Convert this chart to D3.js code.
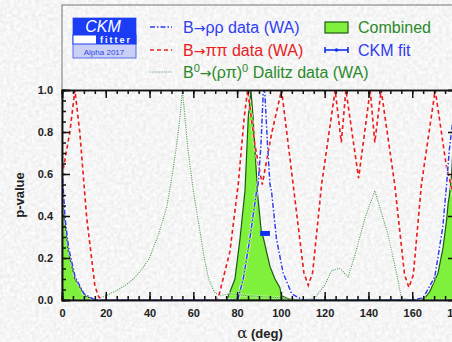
<!DOCTYPE html>
<html lang="en">
<head>
<meta charset="UTF-8">
<title>CKMfitter alpha 2017</title>
<script src="https://d3js.org/d3.v7.min.js"></script>
<style>
  body { margin: 0; background: #ebebeb; }
  svg { display: block; }
  text { font-family: "Liberation Sans", Arial, sans-serif; }
  .tick text { font-weight: bold; font-size: 11px; fill: #222; }
</style>
</head>
<body>
<svg width="452" height="342"></svg>
<script>
// --- data (alpha in deg, p-value) ---
const pipiDeg = [0, 3.6, 5.9, 8.2, 11.3, 15, 16.5, 18, 70, 71.4, 76.7, 80.5, 83.2, 84.8, 88.1, 91.5, 95.7, 100.3, 105.6, 110.5, 112.5, 114.5, 118.6, 124.8, 127.6, 129.7, 135.5, 140.8, 142.9, 145.8, 152, 156.5, 158.5, 160.5, 164.2, 170.5, 175.7, 180];
const pipiP   = [0.59, 0.80, 1.0, 0.79, 0.39, 0.07, 0.02, 0.0, 0.0, 0.01, 0.23, 0.55, 0.865, 1.0, 0.74, 0.55, 0.79, 1.0, 0.55, 0.13, 0.07, 0.13, 0.55, 1.0, 0.75, 1.0, 0.58, 1.0, 0.75, 1.0, 0.55, 0.12, 0.06, 0.12, 0.55, 1.0, 0.63, 0.45];

const rhorhoDeg = [0, 1.4, 3, 6, 10, 15, 78, 80.5, 82.8, 85.8, 88.9, 89.6, 90.9, 91.9, 92.3, 92.7, 93.9, 95, 95.7, 98, 101, 104.9, 110, 160, 165, 170.3, 174, 175.7, 177, 178.5, 180];
const rhorhoP   = [0.63, 0.39, 0.25, 0.11, 0.03, 0.0, 0.0, 0.01, 0.1, 0.29, 0.52, 0.55, 0.74, 0.98, 1.0, 0.98, 0.74, 0.55, 0.52, 0.29, 0.13, 0.03, 0.0, 0.0, 0.01, 0.11, 0.35, 0.55, 0.72, 0.85, 1.0];

const dalitzDeg = [0, 15, 17.4, 21, 25, 29, 32.6, 36, 40, 44, 47.8, 50, 52.4, 53.9, 55, 57.5, 60, 62.5, 65, 67, 69.5, 72, 76.7, 85, 100, 110, 115.5, 120, 123.1, 127, 130.7, 134, 138.4, 142.9, 149, 153.6, 155, 160, 180];
const dalitzP   = [0.0, 0.0, 0.01, 0.025, 0.045, 0.07, 0.1, 0.14, 0.2, 0.31, 0.44, 0.57, 0.74, 0.87, 1.0, 0.72, 0.52, 0.36, 0.2, 0.1, 0.04, 0.02, 0.03, 0.02, 0.01, 0.0, 0.01, 0.07, 0.14, 0.15, 0.11, 0.22, 0.39, 0.52, 0.31, 0.09, 0.01, 0.0, 0.0];

const combDeg = [0, 2.9, 5.9, 10.5, 15, 75, 75.5, 79, 81.3, 83.6, 85.1, 86.3, 87.3, 89.4, 91.2, 91.9, 95, 97.3, 99.5, 100.3, 105, 164, 165.8, 168, 171.8, 174.1, 175.7, 176.4, 177, 178, 180];
const combP   = [0.47, 0.23, 0.1, 0.02, 0.0, 0.0, 0.005, 0.1, 0.29, 0.52, 0.87, 1.0, 0.87, 0.5, 0.31, 0.3, 0.16, 0.1, 0.06, 0.02, 0.0, 0.0, 0.01, 0.04, 0.13, 0.25, 0.38, 0.46, 0.5, 0.6, 1.0];

// CKM fit: central value and 1 sigma interval
const ckmFit = { central: 92.7, low: 90.5, high: 95.0, p: 0.317 };

const xTicks = d3.range(0, 181, 20);
const yTicks = [0, 0.2, 0.4, 0.6, 0.8, 1.0];

const legendRows = [
  { particles: "\u03c1\u03c1", color: "#2f3cf0", dash: "5,2,1.5,2", width: 1.5 },
  { particles: "\u03c0\u03c0", color: "#e82020", dash: "4,3", width: 1.7 },
  { particles: null, color: "#4f9a4f", dash: "1,1.3", width: 1.2 }
];

const svg = d3.select("svg");
const W = 452, H = 342;

// paper-like background
const defs = svg.append("defs");
const f = defs.append("filter").attr("id", "paper").attr("x", 0).attr("y", 0).attr("width", "100%").attr("height", "100%");
f.append("feTurbulence").attr("type", "fractalNoise").attr("baseFrequency", 0.28).attr("numOctaves", 2).attr("seed", 4);
f.append("feColorMatrix").attr("type", "matrix")
  .attr("values", "0.25 0 0 0 0.79  0.25 0 0 0 0.79  0.25 0 0 0 0.79  0 0 0 0 1");
svg.append("rect").attr("width", W).attr("height", H).attr("filter", "url(#paper)");

const x = d3.scaleLinear().domain([0, 180]).range([62, 456]);
const y = d3.scaleLinear().domain([0, 1]).range([300, 90]);

defs.append("clipPath").attr("id", "plot")
  .append("rect").attr("x", 62).attr("y", 90).attr("width", 394).attr("height", 210);

// outer frame (legend area + plot)
svg.append("rect").attr("x", 62).attr("y", 5).attr("width", 394).attr("height", 295)
  .attr("fill", "none").attr("stroke", "#8a8a8a").attr("stroke-width", 1.2);

const g = svg.append("g").attr("clip-path", "url(#plot)");

const pts = (xs, ys) => xs.map((d, i) => [d, ys[i]]);
const line = d3.line().x(d => x(d[0])).y(d => y(d[1]));
const area = d3.area().x(d => x(d[0])).y0(y(0)).y1(d => y(d[1]));

// combined, filled
g.append("path").attr("d", area(pts(combDeg, combP)))
  .attr("fill", "#7ff03c").attr("stroke", "#1e5a12").attr("stroke-width", 1.2);

function curve(xs, ys, color, dash, w) {
  const d = line(pts(xs, ys));
  g.append("path").attr("d", d).attr("fill", "none")
    .attr("stroke", "#fff").attr("stroke-opacity", 0.7).attr("stroke-width", w + 2)
    .attr("stroke-dasharray", dash);
  g.append("path").attr("d", d).attr("fill", "none")
    .attr("stroke", color).attr("stroke-width", w).attr("stroke-dasharray", dash);
}
[2, 1, 0].forEach(i => {
  const r = legendRows[i];
  const xs = [rhorhoDeg, pipiDeg, dalitzDeg][i];
  const ys = [rhorhoP, pipiP, dalitzP][i];
  curve(xs, ys, r.color, r.dash, r.width);
});

// CKM fit marker
g.append("line").attr("x1", x(ckmFit.low)).attr("x2", x(ckmFit.high))
  .attr("y1", y(ckmFit.p)).attr("y2", y(ckmFit.p))
  .attr("stroke", "#1030f0").attr("stroke-width", 5);

// axes
function styleAxis(sel) {
  sel.select(".domain").attr("stroke", "#111").attr("stroke-width", 1.5);
  sel.selectAll(".tick line").attr("stroke", "#111").attr("stroke-width", 1.5);
}
const minorX = d3.range(0, 181, 5);
const minorY = d3.range(0, 1.0001, 0.05);

svg.append("g").attr("transform", "translate(0,300)")
  .call(d3.axisBottom(x).tickValues(minorX).tickSize(-4).tickFormat(""))
  .call(styleAxis);
svg.append("g").attr("transform", "translate(0,300)")
  .call(d3.axisBottom(x).tickValues(xTicks).tickSize(-8).tickPadding(9).tickFormat(d3.format("d")))
  .call(styleAxis);
svg.append("g").attr("transform", "translate(0,90)")
  .call(d3.axisTop(x).tickValues(minorX).tickSize(-4).tickFormat(""))
  .call(styleAxis);
svg.append("g").attr("transform", "translate(0,90)")
  .call(d3.axisTop(x).tickValues(xTicks).tickSize(-8).tickFormat(""))
  .call(styleAxis);
svg.append("g").attr("transform", "translate(62,0)")
  .call(d3.axisLeft(y).tickValues(minorY).tickSize(-4).tickFormat(""))
  .call(styleAxis);
svg.append("g").attr("transform", "translate(62,0)")
  .call(d3.axisLeft(y).tickValues(yTicks).tickSize(-8).tickPadding(9).tickFormat(d3.format(".1f")))
  .call(styleAxis);
svg.append("g").attr("transform", "translate(456,0)")
  .call(d3.axisRight(y).tickValues(yTicks).tickSize(-8).tickFormat(""))
  .call(styleAxis);

// axis titles
svg.append("text").attr("x", 260).attr("y", 338).attr("text-anchor", "middle")
  .attr("font-size", 13).attr("font-weight", "bold").attr("fill", "#222")
  .html('<tspan font-family="DejaVu Serif" font-weight="normal" font-size="15">\u03b1</tspan>  (deg)');
svg.append("text").attr("transform", "translate(24,195) rotate(-90)")
  .attr("text-anchor", "middle").attr("font-size", 13).attr("font-weight", "bold").attr("fill", "#222")
  .text("p-value");

// logo
const logo = svg.append("g");
logo.append("rect").attr("x", 73).attr("y", 18).attr("width", 63).attr("height", 40)
  .attr("fill", "#c9cff5").attr("stroke", "#3a50ee").attr("stroke-width", 0.8);
logo.append("rect").attr("x", 73).attr("y", 18).attr("width", 63).attr("height", 17).attr("fill", "#1a3cf5");
logo.append("rect").attr("x", 73).attr("y", 35).attr("width", 63).attr("height", 9)
  .attr("fill", "#fff").attr("stroke", "#1a3cf5").attr("stroke-width", 1);
logo.append("rect").attr("x", 96).attr("y", 35).attr("width", 40).attr("height", 9).attr("fill", "#1a3cf5");
logo.append("text").attr("x", 103).attr("y", 32).attr("text-anchor", "middle")
  .attr("font-size", 16).attr("font-style", "italic").attr("fill", "#fff").text("CKM");
logo.append("text").attr("x", 116).attr("y", 43).attr("text-anchor", "middle")
  .attr("font-size", 9).attr("font-weight", "bold").attr("letter-spacing", 2).attr("fill", "#fff").text("fitter");
logo.append("text").attr("x", 104).attr("y", 54.5).attr("text-anchor", "middle")
  .attr("font-size", 8).attr("fill", "#3048e8").text("Alpha 2017");

// legend
const rowY = [27, 50, 72];
const baseY = [33, 56, 78];
const arrow = '<tspan font-family="DejaVu Sans" font-size="14">\u2192</tspan>';
legendRows.forEach((r, i) => {
  svg.append("line").attr("x1", 150).attr("x2", 172).attr("y1", rowY[i]).attr("y2", rowY[i])
    .attr("stroke", r.color).attr("stroke-width", r.width).attr("stroke-dasharray", r.dash);
  if (r.particles) {
    svg.append("text").attr("x", 183).attr("y", baseY[i]).attr("font-size", 16).attr("fill", r.color)
      .html("B" + arrow + r.particles + " data (WA)");
  }
});
svg.append("text").attr("x", 183).attr("y", baseY[2]).attr("font-size", 16).attr("fill", "#2a8a2a")
  .html('B<tspan dy="-6" font-size="11">0</tspan><tspan dy="6">' + arrow + '(\u03c1\u03c0)</tspan><tspan dy="-6" font-size="11">0</tspan><tspan dy="6"> Dalitz data (WA)</tspan>');

svg.append("rect").attr("x", 325).attr("y", 22).attr("width", 23).attr("height", 11)
  .attr("fill", "#7ff03c").attr("stroke", "#1e5a12").attr("stroke-width", 1.2);
svg.append("text").attr("x", 358).attr("y", baseY[0]).attr("font-size", 16).attr("fill", "#2a8a2a").text("Combined");

const fitY = 50;
svg.append("line").attr("x1", 325).attr("x2", 348).attr("y1", fitY).attr("y2", fitY).attr("stroke", "#1030f0").attr("stroke-width", 1.6);
[325, 348].forEach(px => svg.append("line").attr("x1", px).attr("x2", px).attr("y1", fitY - 3).attr("y2", fitY + 3).attr("stroke", "#1030f0").attr("stroke-width", 1.6));
svg.append("circle").attr("cx", 336.5).attr("cy", fitY).attr("r", 1.8).attr("fill", "#1030f0");
svg.append("text").attr("x", 358).attr("y", baseY[1]).attr("font-size", 16).attr("fill", "#2f3cf0").text("CKM fit");
</script>
</body>
</html>
